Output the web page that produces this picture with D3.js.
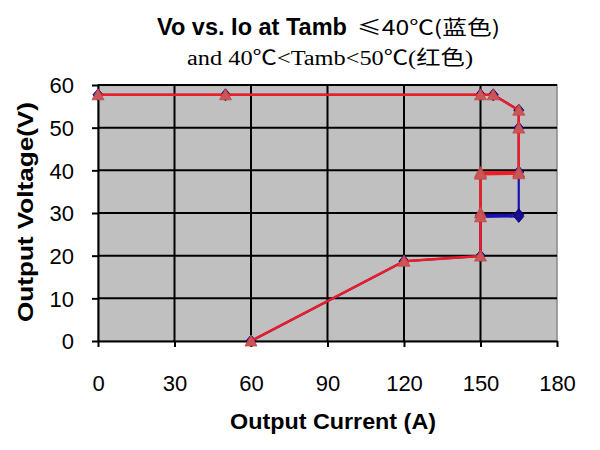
<!DOCTYPE html>
<html>
<head>
<meta charset="utf-8">
<script src="https://cdn.jsdelivr.net/npm/d3@7"></script>
<style>
  html, body { margin: 0; padding: 0; background: #fff; }
  svg { display: block; }
</style>
</head>
<body>
<div id="chart"></div>
<script>
// axis ticks
const xTicks = [0, 30, 60, 90, 120, 150, 180];
const yTicks = [0, 10, 20, 30, 40, 50, 60];

// Tamb <= 40C (blue)
const blueCurrent = [0, 50, 150, 155, 165, 165, 165, 165, 150, 165, 150, 150, 120, 60];
const blueVoltage = [57.7, 57.7, 57.7, 57.7, 54.1, 49.9, 39.6, 29.6, 29.5, 29.2, 29.1, 19.9, 18.7, 0];

// 40C < Tamb < 50C (red)
const redCurrent = [0, 50, 150, 155, 165, 165, 165, 150, 165, 150, 150, 150, 150, 120, 60];
const redVoltage = [57.7, 57.7, 57.7, 57.7, 54.1, 49.9, 39.6, 39.5, 39.2, 39.1, 30.0, 29.1, 19.9, 18.7, 0];

const W = 600, H = 450;
const margin = { left: 98, right: 43, top: 85, bottom: 109 };
const SANS = '"Liberation Sans", Arial, sans-serif';

const svg = d3.select('#chart').append('svg')
    .attr('width', W)
    .attr('height', H);

const x = d3.scaleLinear().domain([0, 180]).range([margin.left, W - margin.right]);
const y = d3.scaleLinear().domain([0, 60]).range([H - margin.bottom, margin.top]);

// plot background
svg.append('rect')
    .attr('x', x(0)).attr('y', y(60))
    .attr('width', x(180) - x(0)).attr('height', y(0) - y(60))
    .attr('fill', '#c0c0c0')
    .attr('stroke', '#8a8a8a')
    .attr('stroke-width', 1.5);

// gridlines
const grid = svg.append('g').attr('stroke', '#000').attr('stroke-width', 2);
grid.selectAll('line.h').data(yTicks.filter(d => d > 0)).join('line')
    .attr('class', 'h')
    .attr('x1', x(0)).attr('x2', x(180))
    .attr('y1', d => y(d)).attr('y2', d => y(d));
grid.selectAll('line.v').data(xTicks.filter(d => d > 0 && d < 180)).join('line')
    .attr('class', 'v')
    .attr('x1', d => x(d)).attr('x2', d => x(d))
    .attr('y1', y(0)).attr('y2', y(60));

// axes
const xAxis = svg.append('g')
    .attr('transform', 'translate(0,' + y(0) + ')')
    .call(d3.axisBottom(x).tickValues(xTicks).tickSize(6).tickPadding(28).tickSizeOuter(0));
const yAxis = svg.append('g')
    .attr('transform', 'translate(' + x(0) + ',0)')
    .call(d3.axisLeft(y).tickValues(yTicks).tickSize(6).tickPadding(18).tickSizeOuter(0));

[xAxis, yAxis].forEach(function(g) {
    g.select('.domain').attr('stroke', '#000').attr('stroke-width', 2);
    g.selectAll('.tick line').attr('stroke', '#000').attr('stroke-width', 2);
    g.selectAll('.tick text')
        .attr('fill', '#000')
        .style('font-family', SANS)
        .style('font-size', '22px');
});
xAxis.selectAll('.tick text').attr('dy', '0.71em');
yAxis.selectAll('.tick text').attr('dy', '0.36em');

// series
const line = d3.line().x(d => x(d[0])).y(d => y(d[1]));
const bluePts = blueCurrent.map((c, i) => [c, blueVoltage[i]]);
const redPts = redCurrent.map((c, i) => [c, redVoltage[i]]);

svg.append('path').datum(bluePts)
    .attr('d', line)
    .attr('fill', 'none')
    .attr('stroke', '#1a0fb0')
    .attr('stroke-width', 2.2);

svg.append('g').selectAll('path').data(bluePts).join('path')
    .attr('transform', d => 'translate(' + x(d[0]) + ',' + y(d[1]) + ')')
    .attr('d', 'M0,-6L5,0L0,6L-5,0Z')
    .attr('fill', '#1a0f90')
    .attr('stroke', '#10087a')
    .attr('stroke-width', 1);

svg.append('path').datum(redPts)
    .attr('d', line)
    .attr('fill', 'none')
    .attr('stroke', '#ee1c24')
    .attr('stroke-width', 2.5);

svg.append('g').selectAll('path').data(redPts).join('path')
    .attr('transform', d => 'translate(' + x(d[0]) + ',' + y(d[1]) + ')')
    .attr('d', 'M0,-6L6,5L-6,5Z')
    .attr('fill', '#cc5656')
    .attr('stroke', '#c04848')
    .attr('stroke-width', 0.8);

// titles
const title = svg.append('g').attr('fill', '#000');
title.append('text')
    .attr('x', 157).attr('y', 35)
    .attr('textLength', 190).attr('lengthAdjust', 'spacingAndGlyphs')
    .style('font-family', SANS)
    .style('font-weight', 'bold')
    .style('font-size', '23px')
    .text('Vo vs. Io at Tamb');
title.append('text')
    .attr('x', 357).attr('y', 35)
    .attr('textLength', 143).attr('lengthAdjust', 'spacingAndGlyphs')
    .style('font-family', '"Noto Sans CJK SC", sans-serif')
    .style('font-size', '20px')
    .text('≤40℃(蓝色)');
title.append('text')
    .attr('x', 187).attr('y', 65)
    .attr('textLength', 286).attr('lengthAdjust', 'spacingAndGlyphs')
    .style('font-family', '"Liberation Serif", "Noto Sans CJK SC", serif')
    .style('font-size', '20px')
    .text('and 40℃<Tamb<50℃(红色)');

svg.append('text')
    .attr('x', 230).attr('y', 429)
    .attr('textLength', 206).attr('lengthAdjust', 'spacingAndGlyphs')
    .style('font-family', SANS)
    .style('font-weight', 'bold')
    .style('font-size', '22px')
    .text('Output Current (A)');

svg.append('text')
    .attr('transform', 'translate(33,322) rotate(-90)')
    .attr('textLength', 220).attr('lengthAdjust', 'spacingAndGlyphs')
    .style('font-family', SANS)
    .style('font-weight', 'bold')
    .style('font-size', '22px')
    .text('Output Voltage(V)');
</script>
</body>
</html>
